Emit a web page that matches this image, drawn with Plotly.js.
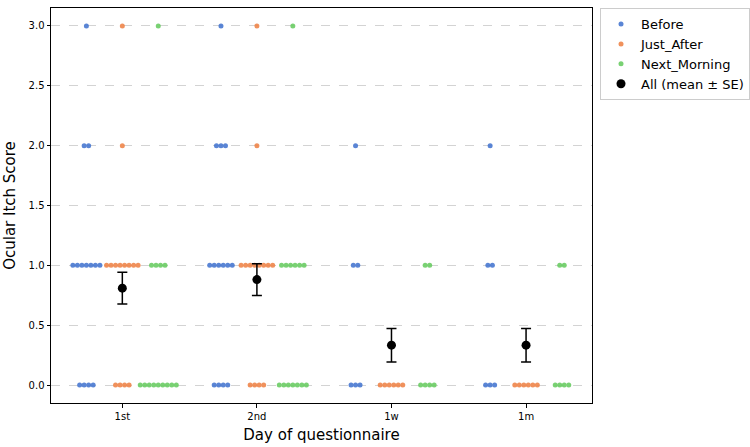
<!DOCTYPE html>
<html>
<head>
<meta charset="utf-8">
<script src="https://cdn.plot.ly/plotly-3.0.1.min.js"></script>
<style>html,body{margin:0;padding:0;background:#fff;}#chart{width:750px;height:447px;}</style>
</head>
<body>
<div id="chart"></div>
<script>
// Categories and score levels
const categories = ["1st", "2nd", "1w", "1m"];
const scoreLevels = [0, 1, 2, 3];
const yTickVals = [0, 0.5, 1, 1.5, 2, 2.5, 3];
const yTickText = ["0.0", "0.5", "1.0", "1.5", "2.0", "2.5", "3.0"];

// Number of respondents at each score level [0,1,2,3] per category
const beforeCounts      = [[4, 7, 2, 1], [4, 6, 3, 1], [3, 2, 1, 0], [3, 2, 1, 0]];
const justAfterCounts   = [[4, 8, 1, 1], [4, 8, 1, 1], [6, 0, 0, 0], [6, 0, 0, 0]];
const nextMorningCounts = [[9, 4, 0, 1], [7, 6, 0, 1], [4, 2, 0, 0], [4, 2, 0, 0]];

const groupNames = ["Before", "Just_After", "Next_Morning"];
const groupColors = ["#4878D0", "#EE854A", "#6ACC64"];
const groupCounts = [beforeCounts, justAfterCounts, nextMorningCounts];
const hueOffsets = [-0.267, 0, 0.267];
const dotStep = 0.0335;

const traces = [];
groupCounts.forEach((counts, g) => {
  const xs = [], ys = [];
  counts.forEach((row, c) => {
    row.forEach((n, s) => {
      for (let i = 0; i < n; i++) {
        xs.push(c + hueOffsets[g] + (i - (n - 1) / 2) * dotStep);
        ys.push(scoreLevels[s]);
      }
    });
  });
  traces.push({
    type: "scatter", mode: "markers", name: groupNames[g],
    x: xs, y: ys, legendgroup: "g" + g,
    marker: {color: groupColors[g], size: 5, opacity: 0.9},
    hoverinfo: "skip"
  });
});

// Mean ± SE of all responses per category
const means = [], ses = [];
categories.forEach((cat, c) => {
  const vals = [];
  groupCounts.forEach(counts => {
    counts[c].forEach((n, s) => { for (let i = 0; i < n; i++) vals.push(scoreLevels[s]); });
  });
  const n = vals.length;
  const m = vals.reduce((a, b) => a + b, 0) / n;
  const v = vals.reduce((a, b) => a + (b - m) * (b - m), 0) / (n - 1);
  means.push(m);
  ses.push(Math.sqrt(v / n));
});

traces.push({
  type: "scatter", mode: "markers", name: "All (mean ± SE)",
  x: categories.map((_, i) => i), y: means, legendgroup: "all",
  marker: {color: "black", size: 9},
  error_y: {type: "data", array: ses, visible: true, color: "black", thickness: 1.5, width: 5}
});

const layout = {
  width: 750, height: 447,
  margin: {l: 51, r: 158, t: 8, b: 44, autoexpand: false},
  paper_bgcolor: "#fff", plot_bgcolor: "#fff",
  font: {family: "DejaVu Sans", color: "#000"},
  showlegend: true,
  legend: {
    xref: "container", yref: "container",
    x: 0.8, y: 0.982, xanchor: "left", yanchor: "top",
    bgcolor: "#fff", bordercolor: "#cccccc", borderwidth: 1,
    font: {size: 13, family: "DejaVu Sans"}, tracegroupgap: 0
  },
  xaxis: {
    range: [-0.53, 3.49],
    tickmode: "array", tickvals: categories.map((_, i) => i), ticktext: categories,
    showgrid: false, zeroline: false,
    showline: true, mirror: true, linecolor: "#000", linewidth: 1,
    ticks: "outside", ticklen: 3.5, tickcolor: "#000",
    tickfont: {size: 10},
    title: {text: "Day of questionnaire", font: {size: 15}, standoff: 8}
  },
  yaxis: {
    range: [-0.15, 3.15],
    tickmode: "array", tickvals: yTickVals, ticktext: yTickText,
    showgrid: true, gridcolor: "#c8c8c8", griddash: "dash", gridwidth: 0.8,
    zeroline: false,
    showline: true, mirror: true, linecolor: "#000", linewidth: 1,
    ticks: "outside", ticklen: 3.5, tickcolor: "#000",
    tickfont: {size: 10},
    title: {text: "Ocular Itch Score", font: {size: 15}, standoff: 9}
  }
};

Plotly.newPlot("chart", traces, layout, {displayModeBar: false, staticPlot: true});
</script>
</body>
</html>
